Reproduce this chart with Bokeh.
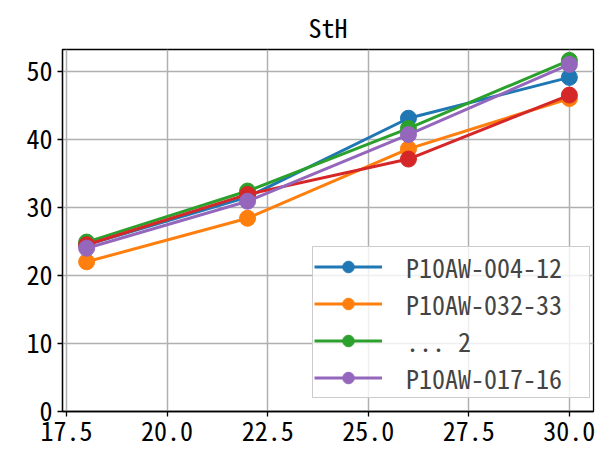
from bokeh.plotting import figure
from bokeh.models import Legend, LegendItem, Range1d, FixedTicker, CustomJSTickFormatter
from bokeh.embed import file_html
from bokeh.resources import INLINE

x = [18, 22, 26, 30]
series_names = ["P10AW-004-12", "P10AW-032-33", "... 2", None, "P10AW-017-16"]
blue = [24.5, 31.5, 43.1, 49.1]
orange = [22.0, 28.4, 38.6, 46.0]
green = [24.9, 32.4, 41.6, 51.6]
red = [24.5, 31.9, 37.1, 46.5]
purple = [24.0, 30.9, 40.7, 51.0]
colors = ["#1f77b4", "#ff7f0e", "#2ca02c", "#d62728", "#9467bd"]
values = [blue, orange, green, red, purple]
x_ticks = [17.5, 20.0, 22.5, 25.0, 27.5, 30.0]
y_ticks = [0, 10, 20, 30, 40, 50]

FONT = "'Noto Sans Mono CJK JP', monospace"

p = figure(width=599, height=452, output_backend="svg", toolbar_location=None,
           x_range=Range1d(17.4, 30.6), y_range=Range1d(0, 53.2),
           min_border_left=62, min_border_right=6, min_border_top=48, min_border_bottom=41)
p.title.text = "StH"
p.title.align = "center"
p.title.text_font = FONT
p.title.text_font_size = "26px"
p.title.text_font_style = "normal"
p.title.text_color = "black"

for ax in (p.xaxis, p.yaxis):
    ax.major_label_text_font = FONT
    ax.major_label_text_font_size = "26px"
    ax.major_label_text_color = "black"
    ax.minor_tick_line_color = None
    ax.major_tick_out = 5
    ax.major_tick_in = 0
    ax.major_label_standoff = 5
    ax.axis_line_color = "black"
    ax.axis_line_width = 1.3
    ax.major_tick_line_color = "black"
    ax.major_tick_line_width = 1.3
p.xaxis.ticker = FixedTicker(ticks=x_ticks)
p.yaxis.ticker = FixedTicker(ticks=y_ticks)
p.xaxis.formatter = CustomJSTickFormatter(code="return tick.toFixed(1);")

p.grid.grid_line_color = "#b0b0b0"
p.grid.grid_line_width = 1.5
p.outline_line_color = "black"
p.outline_line_width = 1.3

items = []
for name, vals, c in zip(series_names, values, colors):
    l = p.line(x, vals, line_color=c, line_width=3)
    s = p.scatter(x, vals, fill_color=c, line_color=c, size=16)
    if name is not None:
        items.append(LegendItem(label=name, renderers=[l, s]))

legend = Legend(items=items, location=(250, 13), label_text_font=FONT,
                label_text_font_size="26px", border_line_color="#cccccc",
                border_line_width=1.5,
                border_line_alpha=1, background_fill_alpha=0.8, glyph_width=68,
                glyph_height=29, label_height=29, label_width=182,
                spacing=-4, padding=1, margin=0, label_standoff=24)
p.add_layout(legend)

open("out.html", "w").write(file_html(p, INLINE))
